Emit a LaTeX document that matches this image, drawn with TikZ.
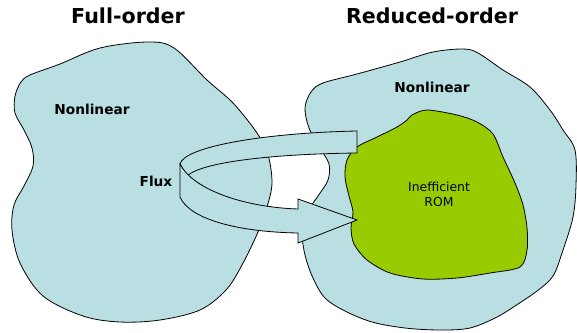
\documentclass[tikz,border=0pt]{standalone}
\usepackage{fontspec}
\setmainfont{DejaVu Sans}
\begin{document}
\begin{tikzpicture}[x=1pt,y=-1pt,
  region/.style={draw=black,line width=0.8pt,fill=paleblue},
  core/.style={draw=black,line width=0.8pt,fill=leafgreen},
  band/.style={draw=black,line width=0.8pt,fill=paleblue,line join=miter},
  title/.style={font=\fontsize{20.6}{24}\selectfont\bfseries},
  tag/.style={font=\fontsize{13.7}{16}\selectfont\bfseries},
  inner/.style={font=\fontsize{12.4}{15}\selectfont,align=center}]
\definecolor{paleblue}{RGB}{186,223,227}
\definecolor{leafgreen}{RGB}{153,204,0}
\useasboundingbox (0,0) rectangle (577,332);

% full-order domain
\draw[region] plot[smooth cycle,tension=0.55] coordinates {
  (30,75) (60,64) (100,48) (148,42) (174,48) (207,80) (233,103) (257,133)
  (268,155) (272,183) (267,207) (258,232) (242,265) (226,290) (200,310)
  (160,320) (120,322) (83,316) (43,296) (20,263) (12,230) (14,205) (24,186)
  (33,166) (32,148) (24,130) (15,113) (15,96) (21,82)};

% reduced-order domain
\draw[region] plot[smooth cycle,tension=0.55] coordinates {
  (323,83) (357,74) (400,62) (433,52) (463,49) (478,53) (503,70) (530,87)
  (550,110) (563,130) (575,150) (576,185) (573,217) (563,250) (553,276)
  (537,291) (518,304) (497,317) (470,328) (440,330) (405,328) (372,322)
  (345,311) (325,298) (313,278) (305,255) (302,232) (306,214) (318,196)
  (328,180) (329,164) (320,148) (309,128) (305,108) (311,92)};

% inefficient reduced model
\draw[core] plot[smooth cycle,tension=0.5] coordinates {
  (407,120) (412,115) (427,110) (457,115) (477,122) (493,134) (503,157)
  (515,183) (523,205) (527,228) (527,250) (520,267) (490,273) (457,278)
  (423,279) (390,273) (367,260) (354,244) (351,228) (353,212) (349,196)
  (345,177) (347,160) (357,147) (377,137) (397,127)};

% wrap-around arrow: back half of the band
\coordinate (bL) at (180,164);
\coordinate (bTop) at (357,131);
\coordinate (bBot) at (357,153);
\coordinate (bIn) at (187,176);
\draw[band] (bL) .. controls (184,147) and (262,133) .. (bTop)
  -- (bBot) .. controls (272,154) and (202,162) .. (bIn) -- cycle;

% front half of the band with the arrow head
\coordinate (fTL) at (180,164);
\coordinate (fBL) at (180,197);
\coordinate (hTop) at (298,199);
\coordinate (tip) at (357,220);
\coordinate (hBot) at (298,243);
\draw[band] (fTL) .. controls (192,188) and (240,207) .. (298,209)
  -- (hTop) -- (tip) -- (hBot) -- (298,233)
  .. controls (240,232) and (190,220) .. (fBL) -- cycle;

% labels
\node[title] (t1) at (128,16) {Full-order};
\node[title] (t2) at (432,16) {Reduced-order};
\node[tag] (n1) at (92,109) {Nonlinear};
\node[tag] (n2) at (432,87) {Nonlinear};
\node[tag] (fx) at (156,181) {Flux};
\node[inner] (rom) at (439,194) {Inefficient\\ROM};
\end{tikzpicture}
\end{document}
